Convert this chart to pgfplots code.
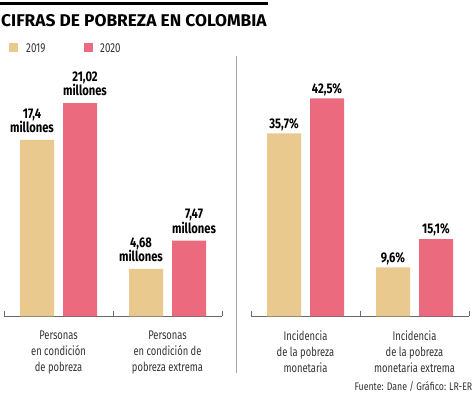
\documentclass[border=0pt]{standalone}
\usepackage{pgfplots}
\pgfplotsset{compat=1.18}
\usepackage{fontspec}
\setmainfont{Fira Sans}
\newfontfamily\lightf[FakeStretch=0.75]{Fira Sans}
\newfontfamily\srcf[FakeStretch=0.8]{Fira Sans}
\newfontfamily\boldf[FakeStretch=0.8]{Fira Sans}
\newfontfamily\titlef[FakeStretch=1.02]{Fira Sans}
\definecolor{c19}{RGB}{233,201,142}
\definecolor{c20}{RGB}{235,106,126}
\definecolor{axgray}{RGB}{105,105,105}
\pgfplotsset{
  mybar/.style={
    ybar=9pt, bar width=34pt, scale only axis, width=218pt,
    xmin=-0.5, xmax=1.5, ymin=0,
    axis x line*=bottom, axis y line=none,
    x axis line style={-, axgray, line width=0.8pt},
    xtick={-0.5,0.5,1.5}, xticklabels={},
    tick align=inside, major tick length=5pt,
    every tick/.style={axgray, line width=0.8pt},
    extra x ticks={0,1},
    extra x tick style={major tick length=0pt,
      tick label style={align=center, font=\fontsize{12.5}{16}\lightf, text=black!80, yshift=-11pt}},
    nodes near coords,
    every node near coord/.append style={anchor=south, inner sep=0pt, align=center,
      font=\fontsize{14}{14.3}\boldf\bfseries, text=black},
    clip=false,
  }
}
\begin{document}
\begin{tikzpicture}
\useasboundingbox (0,0) rectangle (474pt,395pt);
\fill[white] (0,0) rectangle (474pt,395pt);
\draw[line width=3pt] (0,391.5pt) -- (268pt,391.5pt);
\node[anchor=base west, inner sep=0pt] at (1pt,368pt) {\fontsize{17}{20}\titlef\bfseries CIFRAS DE POBREZA EN COLOMBIA};
\fill[c19] (9pt,343pt) rectangle (18pt,352pt);
\node[anchor=base west, inner sep=0pt, text=black!80] at (26pt,342.5pt) {\fontsize{13}{15}\lightf 2019};
\fill[c20] (84pt,343pt) rectangle (93pt,352pt);
\node[anchor=base west, inner sep=0pt, text=black!80] at (100pt,342.5pt) {\fontsize{13}{15}\lightf 2020};
\draw[line width=1.5pt, black!35] (236.7pt,339pt) -- (236.7pt,22pt);
\node[anchor=base east, inner sep=0pt, text=black!80] at (472.5pt,4pt) {\fontsize{11}{13}\srcf Fuente: Dane / Gráfico: LR-ER};

\begin{axis}[mybar, at={(4pt,78.5pt)}, anchor=south west, height=223.3pt, ymax=22,
  extra x tick labels={{Personas\\en condición\\de pobreza},{Personas\\en condición de\\pobreza extrema}},
  nodes near coords={\pgfmathprintnumber[use comma,assume math mode=true]{\pgfplotspointmeta}\\millones},
  every node near coord/.append style={yshift=7pt}]
\addplot[fill=c19, draw=none, every node near coord/.append style={xshift=-5pt}] coordinates {(0,17.4) (1,4.68)};
\addplot[fill=c20, draw=none, every node near coord/.append style={xshift=5pt}] coordinates {(0,21.02) (1,7.47)};
\end{axis}

\begin{axis}[mybar, at={(251pt,78.5pt)}, anchor=south west, height=225.7pt, ymax=44,
  extra x tick labels={{Incidencia\\de la pobreza\\monetaria},{Incidencia\\de la pobreza\\monetaria extrema}},
  nodes near coords={\pgfmathprintnumber[use comma,assume math mode=true]{\pgfplotspointmeta}\%},
  every node near coord/.append style={yshift=2.5pt}]
\addplot[fill=c19, draw=none] coordinates {(0,35.7) (1,9.6)};
\addplot[fill=c20, draw=none] coordinates {(0,42.5) (1,15.1)};
\end{axis}
\end{tikzpicture}
\end{document}
